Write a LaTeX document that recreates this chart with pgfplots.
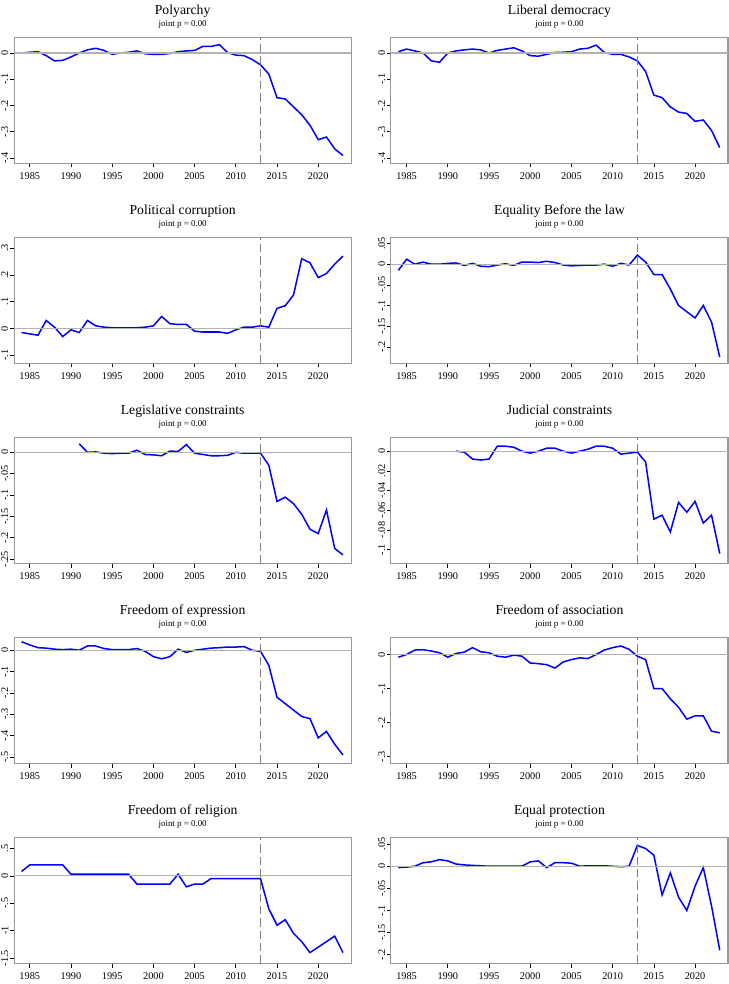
\documentclass[border=0pt]{standalone}
\usepackage{pgfplots}
\pgfplotsset{compat=1.18}
\usepgfplotslibrary{groupplots}
\usepackage{fontspec}
\setmainfont{Liberation Serif}
\pgfplotsset{pan/.style={title={#1\\[-2pt]{\fontsize{6.5}{7}\selectfont joint p = 0.00}}}}
\begin{document}
\begin{tikzpicture}
\begin{groupplot}[group style={group size=2 by 5, horizontal sep=29pt, vertical sep=54pt},
 width=246pt, height=92pt, scale only axis,
 xmin=1983.1, xmax=2024, xtick={1985,1990,1995,2000,2005,2010,2015,2020},
 xticklabels={1985,1990,1995,2000,2005,2010,2015,2020},
 axis line style={gray!80, line width=0.8pt}, tick style={black, line width=0.5pt},
 tick align=outside, tick pos=left, major tick length=3pt,
 ticklabel style={font=\fontsize{7.5}{8}\selectfont},
 yticklabel style={rotate=90, anchor=south, inner sep=1pt},
 title style={align=center, font=\fontsize{10}{11}\selectfont, yshift=-3pt},
 every axis plot/.append style={black, line width=1.1pt, no marks},
]
\nextgroupplot[pan={Polyarchy}, ymin=-0.42, ymax=0.06, ytick={-0.4,-0.3,-0.2,-0.1,0}, yticklabels={-.4,-.3,-.2,-.1,0}]
\addplot coordinates {(1984,0)(1985,0.003)(1986,0.005)(1987,-0.01)(1988,-0.03)(1989,-0.028)(1990,-0.015)(1991,0)(1992,0.012)(1993,0.018)(1994,0.01)(1995,-0.005)(1996,0)(1997,0.003)(1998,0.008)(1999,-0.003)(2000,-0.005)(2001,-0.005)(2002,-0.002)(2003,0.005)(2004,0.008)(2005,0.01)(2006,0.025)(2007,0.025)(2008,0.032)(2009,0.002)(2010,-0.008)(2011,-0.01)(2012,-0.025)(2013,-0.045)(2014,-0.08)(2015,-0.17)(2016,-0.175)(2017,-0.205)(2018,-0.235)(2019,-0.275)(2020,-0.33)(2021,-0.32)(2022,-0.365)(2023,-0.39)};
\addplot[gray!60, line width=0.9pt] coordinates {(1983.1,0)(2024,0)};
\addplot[gray, line width=0.7pt, dash pattern=on 6pt off 3pt] coordinates {(2013,-0.42)(2013,0.06)};
\nextgroupplot[pan={Liberal democracy}, ymin=-0.42, ymax=0.06, ytick={-0.4,-0.3,-0.2,-0.1,0}, yticklabels={-.4,-.3,-.2,-.1,0}]
\addplot coordinates {(1984,0.005)(1985,0.015)(1986,0.008)(1987,0)(1988,-0.03)(1989,-0.035)(1990,0)(1991,0.008)(1992,0.012)(1993,0.015)(1994,0.012)(1995,0)(1996,0.01)(1997,0.015)(1998,0.02)(1999,0.008)(2000,-0.01)(2001,-0.012)(2002,-0.005)(2003,0.002)(2004,0.003)(2005,0.005)(2006,0.015)(2007,0.018)(2008,0.03)(2009,0.002)(2010,-0.005)(2011,-0.005)(2012,-0.015)(2013,-0.03)(2014,-0.07)(2015,-0.16)(2016,-0.17)(2017,-0.205)(2018,-0.225)(2019,-0.23)(2020,-0.26)(2021,-0.255)(2022,-0.295)(2023,-0.36)};
\addplot[gray!60, line width=0.9pt] coordinates {(1983.1,0)(2024,0)};
\addplot[gray, line width=0.7pt, dash pattern=on 6pt off 3pt] coordinates {(2013,-0.42)(2013,0.06)};
\nextgroupplot[pan={Political corruption}, ymin=-0.13, ymax=0.34, ytick={-0.1,0,0.1,0.2,0.3}, yticklabels={-.1,0,.1,.2,.3}]
\addplot coordinates {(1984,-0.015)(1985,-0.02)(1986,-0.025)(1987,0.03)(1988,0.005)(1989,-0.03)(1990,-0.005)(1991,-0.015)(1992,0.03)(1993,0.01)(1994,0.005)(1995,0.003)(1996,0.002)(1997,0.002)(1998,0.003)(1999,0.005)(2000,0.01)(2001,0.045)(2002,0.018)(2003,0.015)(2004,0.015)(2005,-0.01)(2006,-0.013)(2007,-0.013)(2008,-0.013)(2009,-0.018)(2010,-0.005)(2011,0.005)(2012,0.005)(2013,0.01)(2014,0.005)(2015,0.075)(2016,0.085)(2017,0.125)(2018,0.26)(2019,0.245)(2020,0.19)(2021,0.205)(2022,0.24)(2023,0.27)};
\addplot[gray!60, line width=0.9pt] coordinates {(1983.1,0)(2024,0)};
\addplot[gray, line width=0.7pt, dash pattern=on 6pt off 3pt] coordinates {(2013,-0.13)(2013,0.34)};
\nextgroupplot[pan={Equality Before the law}, ymin=-0.24, ymax=0.065, ytick={-0.2,-0.15,-0.1,-0.05,0,0.05}, yticklabels={-.2,-.15,-.1,-.05,0,.05}]
\addplot coordinates {(1984,-0.015)(1985,0.012)(1986,0)(1987,0.005)(1988,0)(1989,0)(1990,0.002)(1991,0.003)(1992,-0.003)(1993,0.002)(1994,-0.005)(1995,-0.006)(1996,-0.002)(1997,0.001)(1998,-0.003)(1999,0.005)(2000,0.005)(2001,0.004)(2002,0.007)(2003,0.004)(2004,-0.002)(2005,-0.004)(2006,-0.003)(2007,-0.002)(2008,-0.002)(2009,0)(2010,-0.005)(2011,0.002)(2012,-0.002)(2013,0.022)(2014,0.005)(2015,-0.025)(2016,-0.025)(2017,-0.06)(2018,-0.1)(2019,-0.115)(2020,-0.13)(2021,-0.1)(2022,-0.14)(2023,-0.225)};
\addplot[gray!60, line width=0.9pt] coordinates {(1983.1,0)(2024,0)};
\addplot[gray, line width=0.7pt, dash pattern=on 6pt off 3pt] coordinates {(2013,-0.24)(2013,0.065)};
\nextgroupplot[pan={Legislative constraints}, ymin=-0.26, ymax=0.035, ytick={-0.25,-0.2,-0.15,-0.1,-0.05,0}, yticklabels={-.25,-.2,-.15,-.1,-.05,0}]
\addplot coordinates {(1991,0.02)(1992,0)(1993,0.001)(1994,-0.002)(1995,-0.003)(1996,-0.002)(1997,-0.002)(1998,0.005)(1999,-0.005)(2000,-0.006)(2001,-0.008)(2002,0.003)(2003,0.002)(2004,0.018)(2005,-0.002)(2006,-0.005)(2007,-0.008)(2008,-0.008)(2009,-0.007)(2010,0)(2011,-0.002)(2012,-0.002)(2013,-0.002)(2014,-0.03)(2015,-0.115)(2016,-0.105)(2017,-0.12)(2018,-0.145)(2019,-0.18)(2020,-0.19)(2021,-0.135)(2022,-0.225)(2023,-0.24)};
\addplot[gray!60, line width=0.9pt] coordinates {(1983.1,0)(2024,0)};
\addplot[gray, line width=0.7pt, dash pattern=on 6pt off 3pt] coordinates {(2013,-0.26)(2013,0.035)};
\nextgroupplot[pan={Judicial constraints}, ymin=-0.114, ymax=0.014, ytick={-0.1,-0.08,-0.06,-0.04,-0.02,0}, yticklabels={-.1,-.08,-.06,-.04,.02,0}]
\addplot coordinates {(1991,0)(1992,-0.001)(1993,-0.008)(1994,-0.009)(1995,-0.008)(1996,0.005)(1997,0.005)(1998,0.004)(1999,0)(2000,-0.002)(2001,0)(2002,0.003)(2003,0.003)(2004,0)(2005,-0.002)(2006,0)(2007,0.002)(2008,0.005)(2009,0.005)(2010,0.003)(2011,-0.003)(2012,-0.002)(2013,-0.001)(2014,-0.011)(2015,-0.069)(2016,-0.065)(2017,-0.082)(2018,-0.052)(2019,-0.062)(2020,-0.051)(2021,-0.073)(2022,-0.065)(2023,-0.104)};
\addplot[gray!60, line width=0.9pt] coordinates {(1983.1,0)(2024,0)};
\addplot[gray, line width=0.7pt, dash pattern=on 6pt off 3pt] coordinates {(2013,-0.114)(2013,0.014)};
\nextgroupplot[pan={Freedom of expression}, ymin=-0.53, ymax=0.06, ytick={-0.5,-0.4,-0.3,-0.2,-0.1,0}, yticklabels={-.5,-.4,-.3,-.2,-.1,0}]
\addplot coordinates {(1984,0.04)(1985,0.025)(1986,0.012)(1987,0.01)(1988,0.005)(1989,0.003)(1990,0.005)(1991,0)(1992,0.02)(1993,0.02)(1994,0.008)(1995,0.003)(1996,0.003)(1997,0.003)(1998,0.008)(1999,-0.005)(2000,-0.03)(2001,-0.04)(2002,-0.03)(2003,0.005)(2004,-0.01)(2005,0)(2006,0.005)(2007,0.01)(2008,0.012)(2009,0.015)(2010,0.015)(2011,0.017)(2012,0)(2013,-0.005)(2014,-0.07)(2015,-0.22)(2016,-0.25)(2017,-0.28)(2018,-0.31)(2019,-0.32)(2020,-0.41)(2021,-0.38)(2022,-0.44)(2023,-0.49)};
\addplot[gray!60, line width=0.9pt] coordinates {(1983.1,0)(2024,0)};
\addplot[gray, line width=0.7pt, dash pattern=on 6pt off 3pt] coordinates {(2013,-0.53)(2013,0.06)};
\nextgroupplot[pan={Freedom of association}, ymin=-0.32, ymax=0.05, ytick={-0.3,-0.2,-0.1,0}, yticklabels={-.3,-.2,-.1,0}]
\addplot coordinates {(1984,-0.008)(1985,0)(1986,0.013)(1987,0.014)(1988,0.01)(1989,0.005)(1990,-0.008)(1991,0.003)(1992,0.007)(1993,0.02)(1994,0.008)(1995,0.005)(1996,-0.005)(1997,-0.008)(1998,-0.002)(1999,-0.005)(2000,-0.025)(2001,-0.027)(2002,-0.03)(2003,-0.04)(2004,-0.022)(2005,-0.015)(2006,-0.01)(2007,-0.012)(2008,0)(2009,0.013)(2010,0.02)(2011,0.025)(2012,0.015)(2013,-0.005)(2014,-0.015)(2015,-0.1)(2016,-0.1)(2017,-0.13)(2018,-0.155)(2019,-0.19)(2020,-0.18)(2021,-0.18)(2022,-0.225)(2023,-0.23)};
\addplot[gray!60, line width=0.9pt] coordinates {(1983.1,0)(2024,0)};
\addplot[gray, line width=0.7pt, dash pattern=on 6pt off 3pt] coordinates {(2013,-0.32)(2013,0.05)};
\nextgroupplot[pan={Freedom of religion}, ymin=-1.6, ymax=0.7, ytick={-1.5,-1,-0.5,0,0.5}, yticklabels={-1.5,-1,-.5,0,.5}]
\addplot coordinates {(1984,0.08)(1985,0.2)(1986,0.2)(1987,0.2)(1988,0.2)(1989,0.2)(1990,0.03)(1991,0.03)(1992,0.03)(1993,0.03)(1994,0.03)(1995,0.03)(1996,0.03)(1997,0.03)(1998,-0.15)(1999,-0.15)(2000,-0.15)(2001,-0.15)(2002,-0.15)(2003,0.03)(2004,-0.2)(2005,-0.15)(2006,-0.15)(2007,-0.05)(2008,-0.05)(2009,-0.05)(2010,-0.05)(2011,-0.05)(2012,-0.05)(2013,-0.05)(2014,-0.6)(2015,-0.9)(2016,-0.8)(2017,-1.05)(2018,-1.2)(2019,-1.4)(2020,-1.3)(2021,-1.2)(2022,-1.1)(2023,-1.4)};
\addplot[gray!60, line width=0.9pt] coordinates {(1983.1,0)(2024,0)};
\addplot[gray, line width=0.7pt, dash pattern=on 6pt off 3pt] coordinates {(2013,-1.6)(2013,0.7)};
\nextgroupplot[pan={Equal protection}, ymin=-0.22, ymax=0.065, ytick={-0.2,-0.15,-0.1,-0.05,0,0.05}, yticklabels={-.2,-.15,-.1,-.05,0,.05}]
\addplot coordinates {(1984,-0.003)(1985,-0.002)(1986,0)(1987,0.008)(1988,0.01)(1989,0.015)(1990,0.012)(1991,0.005)(1992,0.003)(1993,0.002)(1994,0.001)(1995,0)(1996,0)(1997,0)(1998,0)(1999,0)(2000,0.01)(2001,0.012)(2002,-0.003)(2003,0.008)(2004,0.008)(2005,0.007)(2006,0)(2007,0.001)(2008,0.001)(2009,0.001)(2010,0)(2011,-0.001)(2012,0)(2013,0.047)(2014,0.04)(2015,0.025)(2016,-0.065)(2017,-0.015)(2018,-0.07)(2019,-0.1)(2020,-0.045)(2021,-0.003)(2022,-0.09)(2023,-0.19)};
\addplot[gray!60, line width=0.9pt] coordinates {(1983.1,0)(2024,0)};
\addplot[gray, line width=0.7pt, dash pattern=on 6pt off 3pt] coordinates {(2013,-0.22)(2013,0.065)};
\end{groupplot}
\end{tikzpicture}
\end{document}
